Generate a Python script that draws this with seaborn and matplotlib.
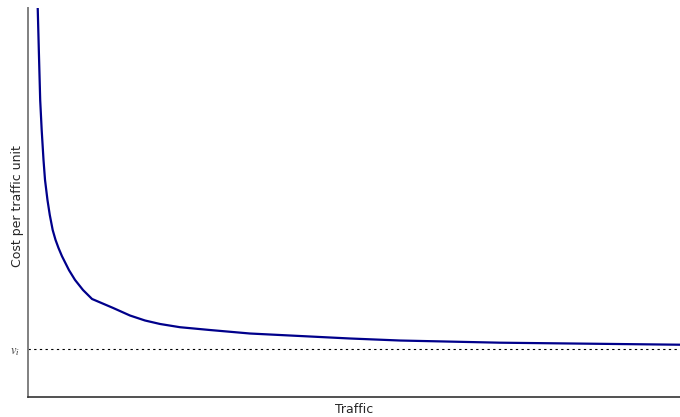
import numpy as np
import pandas as pd
import matplotlib
matplotlib.use("Agg")
import matplotlib.pyplot as plt
import seaborn as sns

# curve (axis units 0-100 both ways)
traffic = [1.43, 1.49, 1.66, 1.87, 2.10, 2.38, 2.61, 2.99, 3.34, 3.79, 4.22,
           4.68, 5.21, 6.29, 7.21, 8.44, 9.82, 13.04, 15.64, 17.94, 20.25,
           23.31, 27.91, 34.05, 41.72, 49.39, 57.06, 72.39, 100.0]
cost = [102.1, 100.0, 89.2, 76.3, 68.6, 60.9, 55.8, 50.6, 46.8, 42.9, 40.4,
        38.3, 36.2, 32.6, 30.1, 27.5, 25.2, 22.9, 20.95, 19.67, 18.77,
        17.94, 17.22, 16.32, 15.68, 15.04, 14.52, 13.96, 13.44]
v_i = 12.3

df = pd.DataFrame({"Traffic": traffic, "Cost": cost})

sns.set_style("white")
plt.rcParams["font.family"] = ["DejaVu Sans"]
plt.rcParams["mathtext.fontset"] = "stix"

fig = plt.figure(figsize=(6.8, 4.17), dpi=100)
ax = fig.add_axes([28 / 680, 20 / 417, 652 / 680, 389 / 417])

sns.lineplot(data=df, x="Traffic", y="Cost", ax=ax, color="#00008B",
             linewidth=1.6, sort=False, estimator=None,
             solid_joinstyle="round", solid_capstyle="round")
ax.axhline(v_i, color="black", linewidth=0.8, dashes=(2.1, 3.0))

ax.set_xlim(0, 100)
ax.set_ylim(0, 100)
ax.set_xticks([])
ax.set_yticks([v_i])
ax.set_yticklabels([r"$v_i$"], fontsize=9, color="#333333")
ax.tick_params(axis="y", length=0, pad=6)

ax.set_xlabel("Traffic", fontsize=9, labelpad=4)
ax.set_ylabel("Cost per traffic unit", fontsize=9)
ax.yaxis.set_label_coords(-0.006, 0.49)

for s in ["top", "right"]:
    ax.spines[s].set_visible(False)
ax.spines["left"].set_color("0.5")
ax.spines["left"].set_linewidth(1.4)
ax.spines["bottom"].set_color("0.2")
ax.spines["bottom"].set_linewidth(1.2)

fig.savefig("out.png", dpi=100)
